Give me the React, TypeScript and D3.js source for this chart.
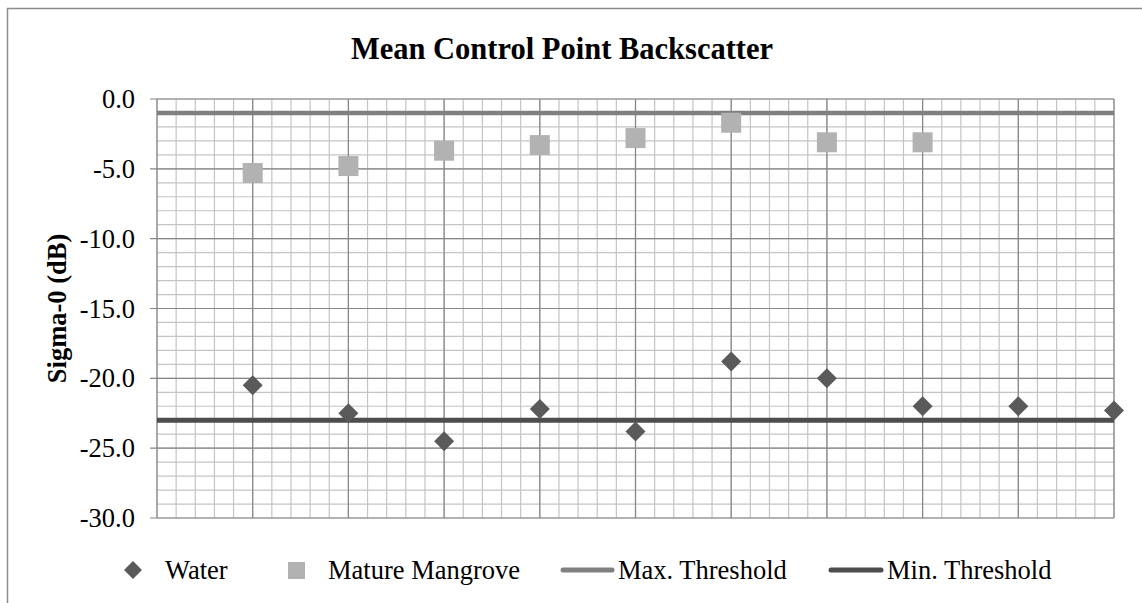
import React from "react";
import * as d3 from "d3";

// Control point positions along the x axis
const categories = [1, 2, 3, 4, 5, 6, 7, 8, 9, 10];
// Mean backscatter (dB) per control point
const waterValues = [-20.5, -22.5, -24.5, -22.2, -23.8, -18.8, -20.0, -22.0, -22.0, -22.3];
const mangroveValues = [-5.3, -4.8, -3.7, -3.3, -2.8, -1.7, -3.1, -3.1];
// Classification thresholds (dB)
const maxThreshold = -1.0;
const minThreshold = -23.0;
// Axis ticks
const yTicks = [0, -5, -10, -15, -20, -25, -30];
const xMajorTicks = d3.range(0, 11, 1);
const xMinorTicks = d3.range(0, 50.5, 1).map((i) => i / 5);
const yMinorTicks = d3.range(0, -31, -1);

const W = 1142;
const H = 603;
const plot = { left: 157, right: 1114, top: 99, bottom: 518 };

const FONT = "'Liberation Serif', 'Times New Roman', serif";
const WATER_COLOR = "#5a5a5a";
const MANGROVE_COLOR = "#b2b2b2";
const MAX_COLOR = "#808080";
const MIN_COLOR = "#4d4d4d";
const MINOR_GRID = "#c4c4c4";
const MAJOR_GRID = "#868686";

const x = d3.scaleLinear().domain([0, 10]).range([plot.left, plot.right]);
const y = d3.scaleLinear().domain([0, -30]).range([plot.top, plot.bottom]);

const diamond = d3.symbol().type(d3.symbolDiamond2).size(255)();
const legendDiamond = d3.symbol().type(d3.symbolDiamond2).size(205)();

export default function App() {
  const lineGen = d3
    .line<number>()
    .x((d) => x(d))
    .y(() => 0);

  return (
    <div style={{ position: "absolute", left: 0, top: 0 }}>
      <svg width={W} height={H} style={{ display: "block" }} fontFamily={FONT}>
        <rect x={0} y={0} width={W} height={H} fill="#fff" />
        {/* chart frame */}
        <rect x={7.5} y={8.5} width={W + 10} height={H + 10} fill="none" stroke="#8c8c8c" strokeWidth={1.5} />

        <text x={562} y={59} textAnchor="middle" fontSize={30.5} fontWeight="bold" fill="#000">
          Mean Control Point Backscatter
        </text>

        {/* minor grid */}
        <g stroke={MINOR_GRID} strokeWidth={1.2}>
          {yMinorTicks.map((v) => (
            <line key={"hy" + v} x1={plot.left} x2={plot.right} y1={y(v)} y2={y(v)} />
          ))}
          {xMinorTicks.map((v) => (
            <line key={"vx" + v} x1={x(v)} x2={x(v)} y1={plot.top} y2={plot.bottom} />
          ))}
        </g>
        {/* major grid */}
        <g stroke={MAJOR_GRID} strokeWidth={1.2}>
          {yTicks.map((v) => (
            <line key={"Hy" + v} x1={plot.left - 7} x2={plot.right} y1={y(v)} y2={y(v)} />
          ))}
          {xMajorTicks.map((v) => (
            <line key={"Vx" + v} x1={x(v)} x2={x(v)} y1={plot.top} y2={plot.bottom} />
          ))}
        </g>

        {/* y tick labels */}
        <g fontSize={26.5} fill="#000" textAnchor="end">
          {yTicks.map((v) => (
            <text key={"yl" + v} x={135} y={y(v) + 9}>
              {d3.format(".1f")(v).replace("−", "-")}
            </text>
          ))}
        </g>
        <text
          transform={`translate(66,${(plot.top + plot.bottom) / 2}) rotate(-90)`}
          textAnchor="middle"
          fontSize={26.5}
          fontWeight="bold"
          fill="#000"
        >
          Sigma-0 (dB)
        </text>

        {/* threshold lines */}
        <path
          d={lineGen([0, 10]) || ""}
          transform={`translate(0,${y(maxThreshold)})`}
          stroke={MAX_COLOR}
          strokeWidth={4.5}
          fill="none"
        />
        <path
          d={lineGen([0, 10]) || ""}
          transform={`translate(0,${y(minThreshold)})`}
          stroke={MIN_COLOR}
          strokeWidth={5}
          fill="none"
        />

        {/* mature mangrove markers */}
        {mangroveValues.map((v, i) => (
          <rect
            key={"m" + i}
            x={x(categories[i]) - 10}
            y={y(v) - 10}
            width={20}
            height={20}
            fill={MANGROVE_COLOR}
          />
        ))}
        {/* water markers */}
        {waterValues.map((v, i) => (
          <path
            key={"w" + i}
            d={diamond || ""}
            transform={`translate(${x(categories[i])},${y(v)})`}
            fill={WATER_COLOR}
          />
        ))}

        {/* legend */}
        <g fontSize={26.5} fill="#000">
          <path d={legendDiamond || ""} transform="translate(133,570)" fill={WATER_COLOR} />
          <text x={165} y={579}>Water</text>
          <rect x={288} y={562} width={17} height={17} fill={MANGROVE_COLOR} />
          <text x={328} y={579}>Mature Mangrove</text>
          <line x1={563} x2={612} y1={570} y2={570} stroke={MAX_COLOR} strokeWidth={5} strokeLinecap="round" />
          <text x={618} y={579}>Max. Threshold</text>
          <line x1={831} x2={881} y1={570} y2={570} stroke={MIN_COLOR} strokeWidth={5} strokeLinecap="round" />
          <text x={887} y={579}>Min. Threshold</text>
        </g>
      </svg>
    </div>
  );
}
